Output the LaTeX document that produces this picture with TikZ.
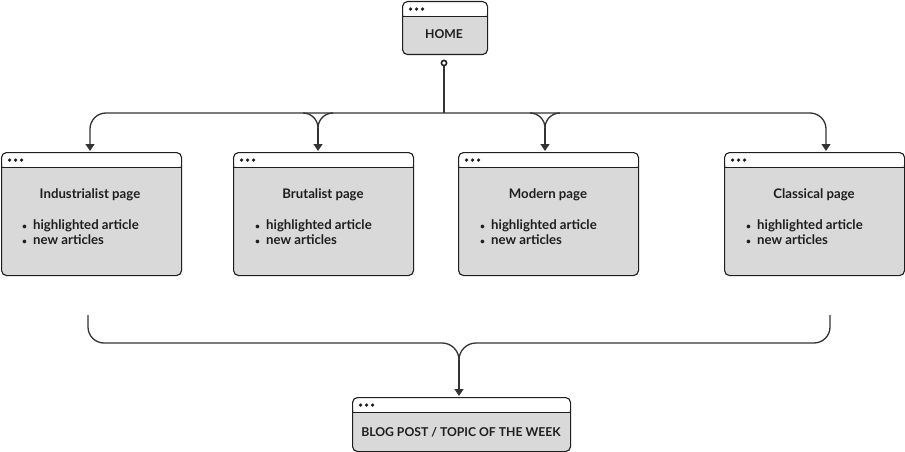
\documentclass[tikz,border=0pt]{standalone}
\usepackage{fontspec}
\setmainfont{Lato}
\usetikzlibrary{arrows.meta,calc}
\definecolor{ink}{HTML}{1E1E1E}
\definecolor{wire}{HTML}{333333}
\definecolor{boxgray}{HTML}{D9D9D9}
\tikzset{
  win/.style={draw=ink, line width=1.1pt, fill=boxgray, rounded corners=5pt, anchor=north west, inner sep=0pt,
    path picture={
      \fill[white] (path picture bounding box.north west) rectangle ([yshift=-15pt]path picture bounding box.north east);
      \draw[ink, line width=1.1pt] ([yshift=-15pt]path picture bounding box.north west) -- ([yshift=-15pt]path picture bounding box.north east);
      \foreach \i in {0,1,2} \fill[ink] ([xshift=8pt+\i*6pt, yshift=-7.5pt]path picture bounding box.north west) circle (1.8pt);
    }},
  txt/.style={font=\bfseries\fontsize{13.2}{15}\selectfont, text=ink, inner sep=0pt},
  caps/.style={font=\bfseries\fontsize{12.2}{15}\selectfont, text=ink, inner sep=0pt},
  lst/.style={txt, anchor=west, align=left},
  wirel/.style={draw=wire, line width=1.3pt},
  arr/.style={wirel, -{Triangle[width=9pt,length=7pt]}},
}
\newcommand{\bul}{\makebox[10pt][l]{\hspace{-1pt}{\fontsize{8.5}{8.5}\selectfont\raisebox{0.8pt}{•}}}}
\begin{document}
\begin{tikzpicture}[x=1pt,y=-1pt]
\useasboundingbox (0,0) rectangle (905,452);
% boxes
\node[win, minimum width=85pt, minimum height=53pt] (home) at (402,1) {};
\node[win, minimum width=180pt, minimum height=123pt] (ind) at (1,152) {};
\node[win, minimum width=180pt, minimum height=123pt] (bru) at (233,152) {};
\node[win, minimum width=180pt, minimum height=123pt] (mod) at (458,152) {};
\node[win, minimum width=180pt, minimum height=123pt] (cls) at (724,152) {};
\node[win, minimum width=218pt, minimum height=54pt] (blog) at (352,397) {};
% texts
\node[caps] (homet) at (444,34) {HOME};
\node[caps] (blogt) at (461,432) {BLOG POST / TOPIC OF THE WEEK};
\node[txt] (indt) at (90,194.5) {Industrialist page};
\node[txt] (brut) at (323,194.5) {Brutalist page};
\node[txt] (modt) at (548,194.5) {Modern page};
\node[txt] (clst) at (814,194.5) {Classical page};
\node[lst] (indl) at (23,232.5) {\bul highlighted article\\\bul new articles};
\node[lst] (brul) at (256,232.5) {\bul highlighted article\\\bul new articles};
\node[lst] (modl) at (481,232.5) {\bul highlighted article\\\bul new articles};
\node[lst] (clsl) at (747,232.5) {\bul highlighted article\\\bul new articles};
% top connectors
\coordinate (hub) at (444,113);
\coordinate (dot) at (444,63);
\coordinate (indin) at (90,151);
\coordinate (bruin) at (318,151);
\coordinate (modin) at (545,151);
\coordinate (clsin) at (826,151);
\draw[wirel] (dot) -- (hub);
\draw[arr, rounded corners=16pt] (hub) -| (indin);
\draw[arr, rounded corners=16pt] (hub) -| (clsin);
\coordinate (brucusp) at (318,128);
\coordinate (modcusp) at (545,128);
\draw[wirel] (303,113) to[out=0,in=90] (brucusp);
\draw[wirel] (333,113) to[out=180,in=90] (brucusp);
\draw[wirel] (530,113) to[out=0,in=90] (modcusp);
\draw[wirel] (560,113) to[out=180,in=90] (modcusp);
\draw[arr] (brucusp) -- (bruin);
\draw[arr] (modcusp) -- (modin);
\filldraw[draw=ink, fill=white, line width=1.6pt] (dot) circle (2.6pt);
% bottom connectors
\coordinate (indout) at (88,315);
\coordinate (clsout) at (830,315);
\coordinate (bcusp) at (459,360);
\coordinate (blogin) at (459,396);
\coordinate (bl) at (442,343);
\coordinate (br) at (476,343);
\draw[wirel, rounded corners=16pt] (indout) |- (bl);
\draw[wirel, rounded corners=16pt] (clsout) |- (br);
\draw[wirel] (bl) to[out=0,in=90] (bcusp);
\draw[wirel] (br) to[out=180,in=90] (bcusp);
\draw[arr] (bcusp) -- (blogin);
\end{tikzpicture}
\end{document}
